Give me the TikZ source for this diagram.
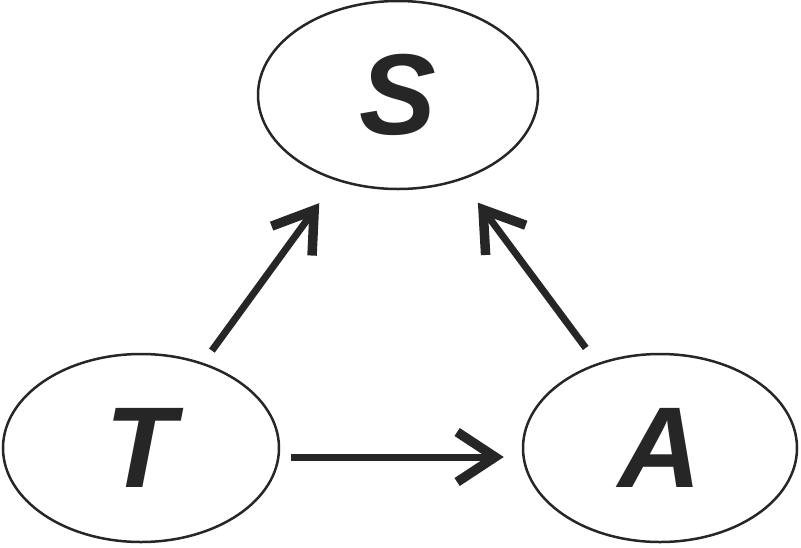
\documentclass[tikz,border=0pt]{standalone}
\usepackage{fontspec}
\setmainfont{Liberation Sans}
\usepackage{xcolor}
\usepackage{tikz}
\usetikzlibrary{arrows.meta,positioning,calc,shapes.geometric}
\definecolor{ink}{HTML}{262626}

\begin{document}
\begin{tikzpicture}[x=1pt,y=-1pt,
  var/.style={ellipse,draw=ink,line width=2.5pt,inner sep=0pt,text=ink,
    font=\fontsize{115}{115}\selectfont\bfseries\itshape},
  arr/.style={draw=ink,line width=7pt,
    -{Straight Barb[length=38pt,width=50pt,line width=2.5pt 1]}}]
\useasboundingbox (0,0) rectangle (801,547);
\node[var,minimum width=280pt,minimum height=188pt] (S) at (398,95) {S};
\node[var,minimum width=276pt,minimum height=188pt] (T) at (141,448) {T};
\node[var,minimum width=274pt,minimum height=188pt] (A) at (660,448) {A};
\draw[arr,shorten <=15pt,shorten >=28pt] (T) -- (S);
\draw[arr,shorten <=19pt,shorten >=28pt] (A) -- (S);
\draw[arr,shorten <=11pt,shorten >=18pt] ([yshift=-9pt]T.east) -- ([yshift=-9pt]A.west);
\end{tikzpicture}
\end{document}
